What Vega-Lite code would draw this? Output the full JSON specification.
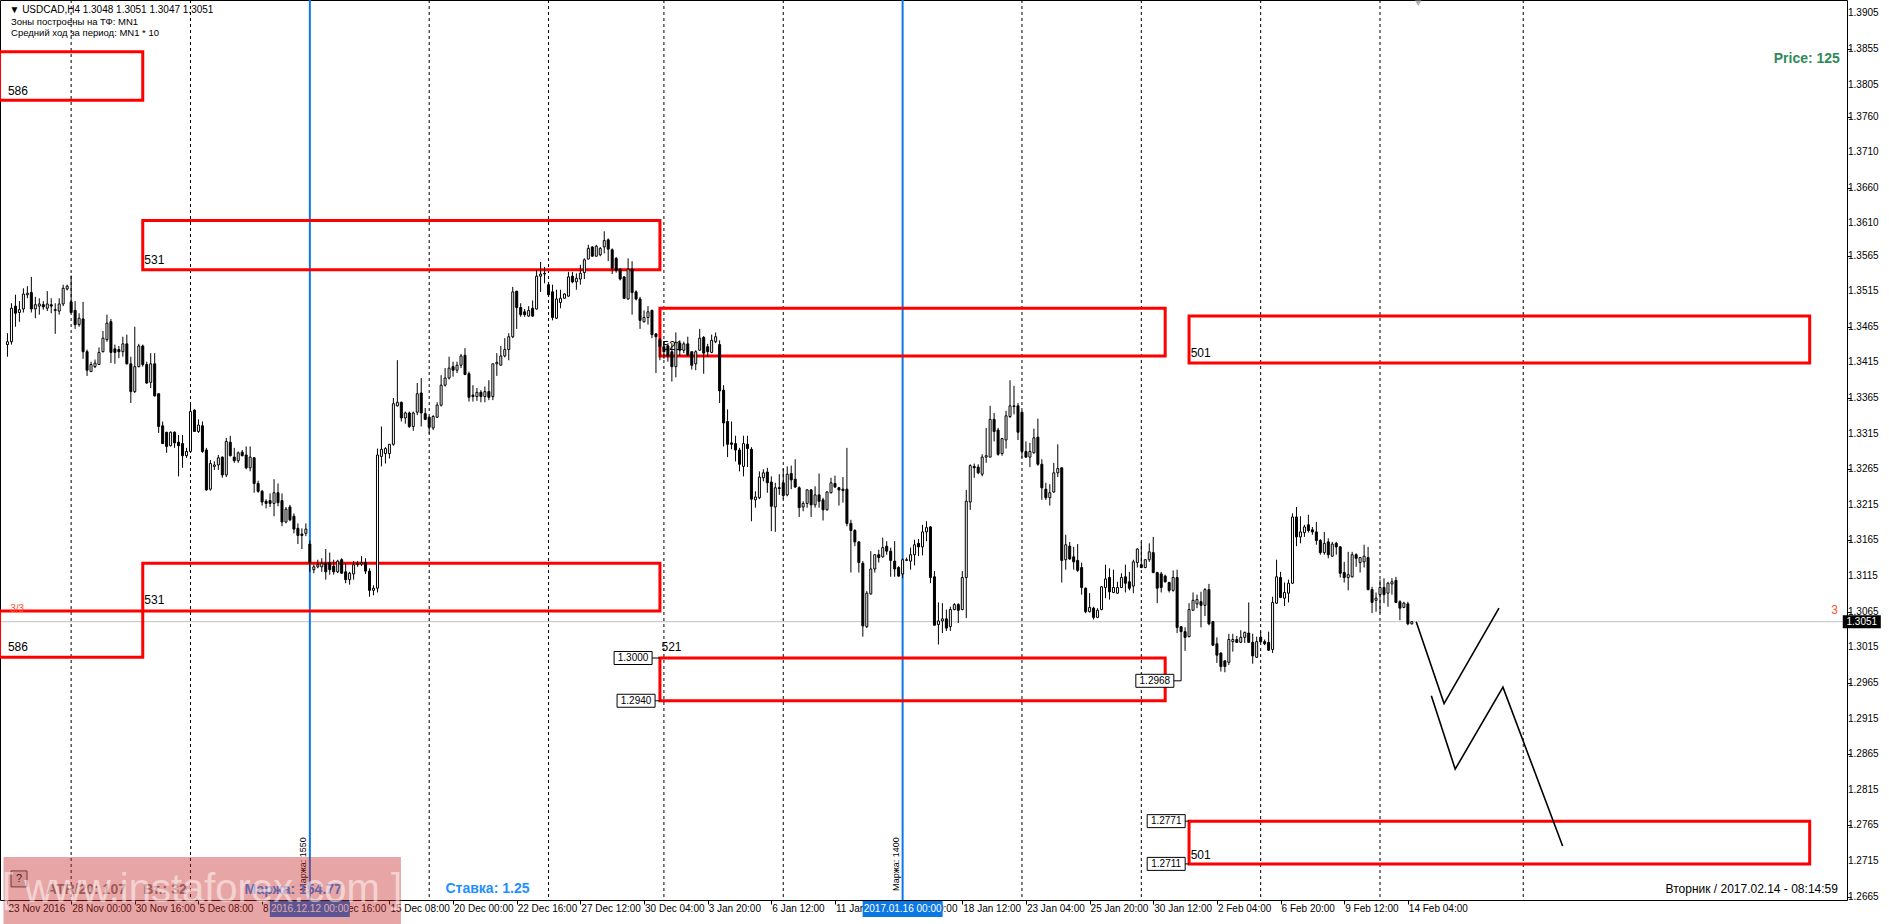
{
"$schema": "https://vega.github.io/schema/vega-lite/v6.json",
"width": 1847, "height": 900,
"autosize": {"type": "none"},
"padding": {"left": 0, "top": 0, "right": 42, "bottom": 24},
"background": "white",
"config": {"font": "Liberation Sans", "view": {"stroke": "black", "strokeWidth": 1}, "axis": {"labelOverlap": false}, "axisY": {"labelOverlap": false}, "axisRight": {"labelOverlap": false}},
"datasets": {
"bars": [
{"i":0,"o":1.3440,"h":1.3456,"l":1.3423,"c":1.3444},{"i":1,"o":1.3444,"h":1.3498,"l":1.3440,"c":1.3491},{"i":2,"o":1.3494,"h":1.3510,"l":1.3465,"c":1.3484},{"i":3,"o":1.3485,"h":1.3501,"l":1.3472,"c":1.3489},{"i":4,"o":1.3490,"h":1.3519,"l":1.3485,"c":1.3511},{"i":5,"o":1.3510,"h":1.3522,"l":1.3505,"c":1.3512},{"i":6,"o":1.3513,"h":1.3535,"l":1.3485,"c":1.3490},{"i":7,"o":1.3490,"h":1.3507,"l":1.3477,"c":1.3496},{"i":8,"o":1.3494,"h":1.3505,"l":1.3482,"c":1.3497},{"i":9,"o":1.3496,"h":1.3501,"l":1.3489,"c":1.3493},
{"i":10,"o":1.3491,"h":1.3515,"l":1.3487,"c":1.3497},{"i":11,"o":1.3496,"h":1.3505,"l":1.3484,"c":1.3494},{"i":12,"o":1.3489,"h":1.3498,"l":1.3455,"c":1.3488},{"i":13,"o":1.3487,"h":1.3505,"l":1.3482,"c":1.3497},{"i":14,"o":1.3497,"h":1.3524,"l":1.3494,"c":1.3519},{"i":15,"o":1.3518,"h":1.3524,"l":1.3516,"c":1.3522},{"i":16,"o":1.3500,"h":1.3537,"l":1.3484,"c":1.3485},{"i":17,"o":1.3488,"h":1.3501,"l":1.3462,"c":1.3468},{"i":18,"o":1.3468,"h":1.3484,"l":1.3465,"c":1.3477},{"i":19,"o":1.3476,"h":1.3500,"l":1.3420,"c":1.3430},
{"i":20,"o":1.3430,"h":1.3433,"l":1.3396,"c":1.3404},{"i":21,"o":1.3402,"h":1.3416,"l":1.3402,"c":1.3412},{"i":22,"o":1.3409,"h":1.3419,"l":1.3407,"c":1.3414},{"i":23,"o":1.3412,"h":1.3436,"l":1.3412,"c":1.3429},{"i":24,"o":1.3430,"h":1.3459,"l":1.3429,"c":1.3449},{"i":25,"o":1.3447,"h":1.3482,"l":1.3444,"c":1.3470},{"i":26,"o":1.3472,"h":1.3476,"l":1.3414,"c":1.3429},{"i":27,"o":1.3434,"h":1.3440,"l":1.3413,"c":1.3429},{"i":28,"o":1.3433,"h":1.3438,"l":1.3421,"c":1.3430},{"i":29,"o":1.3430,"h":1.3451,"l":1.3423,"c":1.3441},
{"i":30,"o":1.3441,"h":1.3454,"l":1.3412,"c":1.3413},{"i":31,"o":1.3413,"h":1.3423,"l":1.3358,"c":1.3374},{"i":32,"o":1.3374,"h":1.3465,"l":1.3372,"c":1.3409},{"i":33,"o":1.3409,"h":1.3441,"l":1.3408,"c":1.3438},{"i":34,"o":1.3438,"h":1.3440,"l":1.3409,"c":1.3412},{"i":35,"o":1.3412,"h":1.3416,"l":1.3385,"c":1.3386},{"i":36,"o":1.3387,"h":1.3428,"l":1.3379,"c":1.3413},{"i":37,"o":1.3413,"h":1.3428,"l":1.3367,"c":1.3368},{"i":38,"o":1.3371,"h":1.3371,"l":1.3316,"c":1.3325},{"i":39,"o":1.3326,"h":1.3332,"l":1.3301,"c":1.3301},
{"i":40,"o":1.3317,"h":1.3317,"l":1.3288,"c":1.3297},{"i":41,"o":1.3298,"h":1.3318,"l":1.3297,"c":1.3317},{"i":42,"o":1.3317,"h":1.3318,"l":1.3295,"c":1.3302},{"i":43,"o":1.3303,"h":1.3313,"l":1.3255,"c":1.3298},{"i":44,"o":1.3301,"h":1.3313,"l":1.3267,"c":1.3284},{"i":45,"o":1.3284,"h":1.3295,"l":1.3281,"c":1.3290},{"i":46,"o":1.3290,"h":1.3359,"l":1.3289,"c":1.3346},{"i":47,"o":1.3348,"h":1.3349,"l":1.3318,"c":1.3318},{"i":48,"o":1.3318,"h":1.3335,"l":1.3316,"c":1.3327},{"i":49,"o":1.3326,"h":1.3332,"l":1.3288,"c":1.3290},
{"i":50,"o":1.3292,"h":1.3295,"l":1.3235,"c":1.3236},{"i":51,"o":1.3237,"h":1.3278,"l":1.3235,"c":1.3273},{"i":52,"o":1.3269,"h":1.3276,"l":1.3264,"c":1.3271},{"i":53,"o":1.3271,"h":1.3285,"l":1.3264,"c":1.3281},{"i":54,"o":1.3282,"h":1.3283,"l":1.3253,"c":1.3257},{"i":55,"o":1.3257,"h":1.3309,"l":1.3254,"c":1.3304},{"i":56,"o":1.3303,"h":1.3312,"l":1.3283,"c":1.3284},{"i":57,"o":1.3282,"h":1.3295,"l":1.3274,"c":1.3277},{"i":58,"o":1.3277,"h":1.3290,"l":1.3274,"c":1.3288},{"i":59,"o":1.3289,"h":1.3292,"l":1.3283,"c":1.3284},
{"i":60,"o":1.3285,"h":1.3297,"l":1.3265,"c":1.3267},{"i":61,"o":1.3267,"h":1.3297,"l":1.3262,"c":1.3282},{"i":62,"o":1.3281,"h":1.3282,"l":1.3232,"c":1.3245},{"i":63,"o":1.3245,"h":1.3249,"l":1.3232,"c":1.3234},{"i":64,"o":1.3234,"h":1.3236,"l":1.3214,"c":1.3219},{"i":65,"o":1.3220,"h":1.3223,"l":1.3210,"c":1.3217},{"i":66,"o":1.3221,"h":1.3231,"l":1.3212,"c":1.3217},{"i":67,"o":1.3217,"h":1.3251,"l":1.3199,"c":1.3232},{"i":68,"o":1.3232,"h":1.3245,"l":1.3213,"c":1.3218},{"i":69,"o":1.3221,"h":1.3231,"l":1.3185,"c":1.3191},
{"i":70,"o":1.3191,"h":1.3212,"l":1.3189,"c":1.3209},{"i":71,"o":1.3212,"h":1.3215,"l":1.3192,"c":1.3194},{"i":72,"o":1.3199,"h":1.3203,"l":1.3175,"c":1.3181},{"i":73,"o":1.3182,"h":1.3189,"l":1.3160,"c":1.3172},{"i":74,"o":1.3174,"h":1.3182,"l":1.3153,"c":1.3172},{"i":75,"o":1.3175,"h":1.3189,"l":1.3171,"c":1.3181},{"i":76,"o":1.3160,"h":1.3165,"l":1.3121,"c":1.3134},{"i":77,"o":1.3124,"h":1.3131,"l":1.3119,"c":1.3128},{"i":78,"o":1.3128,"h":1.3138,"l":1.3126,"c":1.3131},{"i":79,"o":1.3128,"h":1.3140,"l":1.3121,"c":1.3133},
{"i":80,"o":1.3133,"h":1.3153,"l":1.3110,"c":1.3121},{"i":81,"o":1.3134,"h":1.3148,"l":1.3117,"c":1.3124},{"i":82,"o":1.3129,"h":1.3138,"l":1.3117,"c":1.3121},{"i":83,"o":1.3121,"h":1.3138,"l":1.3119,"c":1.3136},{"i":84,"o":1.3138,"h":1.3140,"l":1.3119,"c":1.3119},{"i":85,"o":1.3121,"h":1.3133,"l":1.3105,"c":1.3110},{"i":86,"o":1.3110,"h":1.3121,"l":1.3103,"c":1.3119},{"i":87,"o":1.3118,"h":1.3136,"l":1.3110,"c":1.3131},{"i":88,"o":1.3131,"h":1.3136,"l":1.3128,"c":1.3133},{"i":89,"o":1.3132,"h":1.3143,"l":1.3129,"c":1.3134},
{"i":90,"o":1.3134,"h":1.3140,"l":1.3118,"c":1.3122},{"i":91,"o":1.3122,"h":1.3126,"l":1.3086,"c":1.3095},{"i":92,"o":1.3095,"h":1.3102,"l":1.3088,"c":1.3098},{"i":93,"o":1.3098,"h":1.3294,"l":1.3092,"c":1.3285},{"i":94,"o":1.3283,"h":1.3325,"l":1.3269,"c":1.3293},{"i":95,"o":1.3287,"h":1.3296,"l":1.3273,"c":1.3294},{"i":96,"o":1.3287,"h":1.3300,"l":1.3280,"c":1.3300},{"i":97,"o":1.3300,"h":1.3365,"l":1.3298,"c":1.3357},{"i":98,"o":1.3354,"h":1.3418,"l":1.3353,"c":1.3359},{"i":99,"o":1.3359,"h":1.3360,"l":1.3332,"c":1.3337},
{"i":100,"o":1.3337,"h":1.3346,"l":1.3329,"c":1.3344},{"i":101,"o":1.3344,"h":1.3346,"l":1.3323,"c":1.3325},{"i":102,"o":1.3325,"h":1.3346,"l":1.3319,"c":1.3344},{"i":103,"o":1.3345,"h":1.3386,"l":1.3341,"c":1.3371},{"i":104,"o":1.3372,"h":1.3393,"l":1.3325,"c":1.3344},{"i":105,"o":1.3343,"h":1.3351,"l":1.3334,"c":1.3335},{"i":106,"o":1.3338,"h":1.3339,"l":1.3315,"c":1.3324},{"i":107,"o":1.3323,"h":1.3341,"l":1.3320,"c":1.3339},{"i":108,"o":1.3338,"h":1.3359,"l":1.3337,"c":1.3355},{"i":109,"o":1.3355,"h":1.3397,"l":1.3353,"c":1.3383},
{"i":110,"o":1.3383,"h":1.3407,"l":1.3381,"c":1.3393},{"i":111,"o":1.3393,"h":1.3423,"l":1.3391,"c":1.3407},{"i":112,"o":1.3409,"h":1.3416,"l":1.3395,"c":1.3404},{"i":113,"o":1.3404,"h":1.3416,"l":1.3400,"c":1.3411},{"i":114,"o":1.3411,"h":1.3427,"l":1.3407,"c":1.3424},{"i":115,"o":1.3425,"h":1.3435,"l":1.3397,"c":1.3398},{"i":116,"o":1.3399,"h":1.3402,"l":1.3360,"c":1.3366},{"i":117,"o":1.3369,"h":1.3383,"l":1.3360,"c":1.3367},{"i":118,"o":1.3367,"h":1.3379,"l":1.3361,"c":1.3373},{"i":119,"o":1.3373,"h":1.3376,"l":1.3359,"c":1.3367},
{"i":120,"o":1.3367,"h":1.3381,"l":1.3359,"c":1.3374},{"i":121,"o":1.3374,"h":1.3390,"l":1.3362,"c":1.3366},{"i":122,"o":1.3367,"h":1.3413,"l":1.3362,"c":1.3413},{"i":123,"o":1.3413,"h":1.3428,"l":1.3396,"c":1.3415},{"i":124,"o":1.3411,"h":1.3438,"l":1.3411,"c":1.3424},{"i":125,"o":1.3424,"h":1.3449,"l":1.3422,"c":1.3433},{"i":126,"o":1.3433,"h":1.3456,"l":1.3418,"c":1.3451},{"i":127,"o":1.3451,"h":1.3521,"l":1.3449,"c":1.3514},{"i":128,"o":1.3515,"h":1.3515,"l":1.3462,"c":1.3492},{"i":129,"o":1.3492,"h":1.3498,"l":1.3479,"c":1.3482},
{"i":130,"o":1.3486,"h":1.3490,"l":1.3479,"c":1.3482},{"i":131,"o":1.3480,"h":1.3494,"l":1.3479,"c":1.3488},{"i":132,"o":1.3491,"h":1.3502,"l":1.3479,"c":1.3480},{"i":133,"o":1.3490,"h":1.3545,"l":1.3489,"c":1.3536},{"i":134,"o":1.3536,"h":1.3556,"l":1.3514,"c":1.3539},{"i":135,"o":1.3539,"h":1.3549,"l":1.3526,"c":1.3540},{"i":136,"o":1.3524,"h":1.3528,"l":1.3507,"c":1.3510},{"i":137,"o":1.3514,"h":1.3524,"l":1.3474,"c":1.3478},{"i":138,"o":1.3477,"h":1.3517,"l":1.3476,"c":1.3504},{"i":139,"o":1.3499,"h":1.3517,"l":1.3491,"c":1.3505},
{"i":140,"o":1.3505,"h":1.3512,"l":1.3505,"c":1.3511},{"i":141,"o":1.3508,"h":1.3542,"l":1.3507,"c":1.3535},{"i":142,"o":1.3536,"h":1.3542,"l":1.3526,"c":1.3528},{"i":143,"o":1.3528,"h":1.3540,"l":1.3517,"c":1.3533},{"i":144,"o":1.3532,"h":1.3552,"l":1.3524,"c":1.3540},{"i":145,"o":1.3541,"h":1.3561,"l":1.3532,"c":1.3559},{"i":146,"o":1.3560,"h":1.3580,"l":1.3560,"c":1.3575},{"i":147,"o":1.3577,"h":1.3578,"l":1.3564,"c":1.3564},{"i":148,"o":1.3564,"h":1.3580,"l":1.3564,"c":1.3578},{"i":149,"o":1.3566,"h":1.3577,"l":1.3564,"c":1.3575},
{"i":150,"o":1.3577,"h":1.3599,"l":1.3568,"c":1.3586},{"i":151,"o":1.3587,"h":1.3589,"l":1.3557,"c":1.3574},{"i":152,"o":1.3573,"h":1.3575,"l":1.3539,"c":1.3547},{"i":153,"o":1.3561,"h":1.3563,"l":1.3541,"c":1.3544},{"i":154,"o":1.3546,"h":1.3547,"l":1.3530,"c":1.3532},{"i":155,"o":1.3535,"h":1.3536,"l":1.3504,"c":1.3505},{"i":156,"o":1.3504,"h":1.3561,"l":1.3503,"c":1.3546},{"i":157,"o":1.3546,"h":1.3557,"l":1.3482,"c":1.3513},{"i":158,"o":1.3514,"h":1.3516,"l":1.3502,"c":1.3504},{"i":159,"o":1.3504,"h":1.3507,"l":1.3462,"c":1.3474},
{"i":160,"o":1.3472,"h":1.3488,"l":1.3471,"c":1.3478},{"i":161,"o":1.3478,"h":1.3494,"l":1.3468,"c":1.3486},{"i":162,"o":1.3488,"h":1.3489,"l":1.3449,"c":1.3454},{"i":163,"o":1.3455,"h":1.3456,"l":1.3400,"c":1.3451},{"i":164,"o":1.3447,"h":1.3449,"l":1.3418,"c":1.3437},{"i":165,"o":1.3437,"h":1.3445,"l":1.3420,"c":1.3430},{"i":166,"o":1.3438,"h":1.3442,"l":1.3416,"c":1.3424},{"i":167,"o":1.3430,"h":1.3442,"l":1.3388,"c":1.3409},{"i":168,"o":1.3409,"h":1.3457,"l":1.3394,"c":1.3443},{"i":169,"o":1.3442,"h":1.3446,"l":1.3424,"c":1.3432},
{"i":170,"o":1.3432,"h":1.3444,"l":1.3428,"c":1.3441},{"i":171,"o":1.3441,"h":1.3451,"l":1.3424,"c":1.3425},{"i":172,"o":1.3430,"h":1.3430,"l":1.3405,"c":1.3411},{"i":173,"o":1.3413,"h":1.3432,"l":1.3404,"c":1.3430},{"i":174,"o":1.3432,"h":1.3462,"l":1.3432,"c":1.3449},{"i":175,"o":1.3450,"h":1.3452,"l":1.3399,"c":1.3428},{"i":176,"o":1.3437,"h":1.3441,"l":1.3423,"c":1.3430},{"i":177,"o":1.3429,"h":1.3454,"l":1.3428,"c":1.3446},{"i":178,"o":1.3444,"h":1.3457,"l":1.3442,"c":1.3451},{"i":179,"o":1.3440,"h":1.3446,"l":1.3358,"c":1.3375},
{"i":180,"o":1.3376,"h":1.3383,"l":1.3297,"c":1.3330},{"i":181,"o":1.3332,"h":1.3349,"l":1.3282,"c":1.3300},{"i":182,"o":1.3302,"h":1.3332,"l":1.3293,"c":1.3300},{"i":183,"o":1.3301,"h":1.3312,"l":1.3276,"c":1.3292},{"i":184,"o":1.3292,"h":1.3295,"l":1.3262,"c":1.3272},{"i":185,"o":1.3269,"h":1.3312,"l":1.3255,"c":1.3301},{"i":186,"o":1.3300,"h":1.3312,"l":1.3268,"c":1.3294},{"i":187,"o":1.3293,"h":1.3296,"l":1.3192,"c":1.3223},{"i":188,"o":1.3222,"h":1.3234,"l":1.3211,"c":1.3226},{"i":189,"o":1.3225,"h":1.3262,"l":1.3223,"c":1.3254},
{"i":190,"o":1.3253,"h":1.3265,"l":1.3248,"c":1.3260},{"i":191,"o":1.3261,"h":1.3267,"l":1.3232,"c":1.3246},{"i":192,"o":1.3247,"h":1.3255,"l":1.3178,"c":1.3213},{"i":193,"o":1.3212,"h":1.3246,"l":1.3177,"c":1.3239},{"i":194,"o":1.3239,"h":1.3258,"l":1.3229,"c":1.3238},{"i":195,"o":1.3246,"h":1.3266,"l":1.3223,"c":1.3228},{"i":196,"o":1.3229,"h":1.3269,"l":1.3227,"c":1.3258},{"i":197,"o":1.3259,"h":1.3270,"l":1.3237,"c":1.3250},{"i":198,"o":1.3251,"h":1.3279,"l":1.3239,"c":1.3240},{"i":199,"o":1.3239,"h":1.3241,"l":1.3198,"c":1.3211},
{"i":200,"o":1.3212,"h":1.3220,"l":1.3206,"c":1.3217},{"i":201,"o":1.3217,"h":1.3237,"l":1.3211,"c":1.3236},{"i":202,"o":1.3236,"h":1.3237,"l":1.3198,"c":1.3215},{"i":203,"o":1.3215,"h":1.3241,"l":1.3211,"c":1.3229},{"i":204,"o":1.3229,"h":1.3259,"l":1.3211,"c":1.3220},{"i":205,"o":1.3222,"h":1.3225,"l":1.3193,"c":1.3208},{"i":206,"o":1.3208,"h":1.3234,"l":1.3207,"c":1.3233},{"i":207,"o":1.3232,"h":1.3253,"l":1.3231,"c":1.3246},{"i":208,"o":1.3245,"h":1.3256,"l":1.3239,"c":1.3240},{"i":209,"o":1.3239,"h":1.3240,"l":1.3214,"c":1.3236},
{"i":210,"o":1.3237,"h":1.3254,"l":1.3218,"c":1.3235},{"i":211,"o":1.3237,"h":1.3295,"l":1.3185,"c":1.3189},{"i":212,"o":1.3189,"h":1.3194,"l":1.3120,"c":1.3179},{"i":213,"o":1.3179,"h":1.3181,"l":1.3157,"c":1.3163},{"i":214,"o":1.3163,"h":1.3164,"l":1.3120,"c":1.3134},{"i":215,"o":1.3133,"h":1.3136,"l":1.3030,"c":1.3045},{"i":216,"o":1.3044,"h":1.3094,"l":1.3042,"c":1.3091},{"i":217,"o":1.3090,"h":1.3150,"l":1.3089,"c":1.3125},{"i":218,"o":1.3125,"h":1.3145,"l":1.3120,"c":1.3145},{"i":219,"o":1.3145,"h":1.3152,"l":1.3134,"c":1.3141},
{"i":220,"o":1.3142,"h":1.3169,"l":1.3141,"c":1.3155},{"i":221,"o":1.3157,"h":1.3164,"l":1.3145,"c":1.3150},{"i":222,"o":1.3150,"h":1.3155,"l":1.3114,"c":1.3137},{"i":223,"o":1.3136,"h":1.3164,"l":1.3114,"c":1.3125},{"i":224,"o":1.3127,"h":1.3129,"l":1.3114,"c":1.3115},{"i":225,"o":1.3118,"h":1.3140,"l":1.3112,"c":1.3138},{"i":226,"o":1.3137,"h":1.3141,"l":1.3136,"c":1.3138},{"i":227,"o":1.3136,"h":1.3155,"l":1.3124,"c":1.3145},{"i":228,"o":1.3145,"h":1.3166,"l":1.3130,"c":1.3159},{"i":229,"o":1.3161,"h":1.3167,"l":1.3143,"c":1.3156},
{"i":230,"o":1.3156,"h":1.3187,"l":1.3144,"c":1.3177},{"i":231,"o":1.3177,"h":1.3192,"l":1.3164,"c":1.3183},{"i":232,"o":1.3184,"h":1.3185,"l":1.3105,"c":1.3113},{"i":233,"o":1.3114,"h":1.3122,"l":1.3046,"c":1.3046},{"i":234,"o":1.3047,"h":1.3078,"l":1.3019,"c":1.3052},{"i":235,"o":1.3052,"h":1.3077,"l":1.3035,"c":1.3055},{"i":236,"o":1.3055,"h":1.3068,"l":1.3038,"c":1.3042},{"i":237,"o":1.3044,"h":1.3072,"l":1.3038,"c":1.3068},{"i":238,"o":1.3068,"h":1.3077,"l":1.3067,"c":1.3075},{"i":239,"o":1.3075,"h":1.3077,"l":1.3049,"c":1.3067},
{"i":240,"o":1.3068,"h":1.3122,"l":1.3067,"c":1.3113},{"i":241,"o":1.3113,"h":1.3236,"l":1.3056,"c":1.3220},{"i":242,"o":1.3219,"h":1.3272,"l":1.3208,"c":1.3270},{"i":243,"o":1.3269,"h":1.3273,"l":1.3253,"c":1.3267},{"i":244,"o":1.3268,"h":1.3272,"l":1.3258,"c":1.3260},{"i":245,"o":1.3258,"h":1.3286,"l":1.3255,"c":1.3282},{"i":246,"o":1.3282,"h":1.3323,"l":1.3274,"c":1.3284},{"i":247,"o":1.3282,"h":1.3354,"l":1.3282,"c":1.3335},{"i":248,"o":1.3335,"h":1.3344,"l":1.3304,"c":1.3318},{"i":249,"o":1.3320,"h":1.3323,"l":1.3284,"c":1.3286},
{"i":250,"o":1.3287,"h":1.3309,"l":1.3284,"c":1.3308},{"i":251,"o":1.3306,"h":1.3347,"l":1.3294,"c":1.3340},{"i":252,"o":1.3339,"h":1.3390,"l":1.3337,"c":1.3354},{"i":253,"o":1.3354,"h":1.3382,"l":1.3342,"c":1.3353},{"i":254,"o":1.3354,"h":1.3358,"l":1.3306,"c":1.3317},{"i":255,"o":1.3345,"h":1.3347,"l":1.3281,"c":1.3290},{"i":256,"o":1.3290,"h":1.3304,"l":1.3281,"c":1.3282},{"i":257,"o":1.3282,"h":1.3302,"l":1.3268,"c":1.3290},{"i":258,"o":1.3288,"h":1.3322,"l":1.3287,"c":1.3309},{"i":259,"o":1.3310,"h":1.3336,"l":1.3270,"c":1.3272},
{"i":260,"o":1.3272,"h":1.3279,"l":1.3222,"c":1.3239},{"i":261,"o":1.3237,"h":1.3246,"l":1.3222,"c":1.3225},{"i":262,"o":1.3225,"h":1.3244,"l":1.3214,"c":1.3232},{"i":263,"o":1.3233,"h":1.3274,"l":1.3232,"c":1.3260},{"i":264,"o":1.3260,"h":1.3300,"l":1.3254,"c":1.3266},{"i":265,"o":1.3267,"h":1.3267,"l":1.3106,"c":1.3137},{"i":266,"o":1.3138,"h":1.3173,"l":1.3124,"c":1.3159},{"i":267,"o":1.3157,"h":1.3163,"l":1.3138,"c":1.3139},{"i":268,"o":1.3142,"h":1.3156,"l":1.3124,"c":1.3135},{"i":269,"o":1.3137,"h":1.3160,"l":1.3121,"c":1.3123},
{"i":270,"o":1.3127,"h":1.3134,"l":1.3089,"c":1.3099},{"i":271,"o":1.3098,"h":1.3099,"l":1.3063,"c":1.3065},{"i":272,"o":1.3065,"h":1.3091,"l":1.3064,"c":1.3071},{"i":273,"o":1.3070,"h":1.3072,"l":1.3054,"c":1.3057},{"i":274,"o":1.3057,"h":1.3070,"l":1.3056,"c":1.3067},{"i":275,"o":1.3068,"h":1.3101,"l":1.3067,"c":1.3100},{"i":276,"o":1.3099,"h":1.3131,"l":1.3084,"c":1.3111},{"i":277,"o":1.3113,"h":1.3126,"l":1.3082,"c":1.3093},{"i":278,"o":1.3092,"h":1.3124,"l":1.3091,"c":1.3099},{"i":279,"o":1.3091,"h":1.3107,"l":1.3090,"c":1.3099},
{"i":280,"o":1.3099,"h":1.3119,"l":1.3098,"c":1.3113},{"i":281,"o":1.3114,"h":1.3131,"l":1.3092,"c":1.3105},{"i":282,"o":1.3107,"h":1.3121,"l":1.3095,"c":1.3098},{"i":283,"o":1.3101,"h":1.3138,"l":1.3091,"c":1.3135},{"i":284,"o":1.3134,"h":1.3154,"l":1.3127,"c":1.3153},{"i":285,"o":1.3131,"h":1.3163,"l":1.3126,"c":1.3127},{"i":286,"o":1.3127,"h":1.3139,"l":1.3126,"c":1.3138},{"i":287,"o":1.3138,"h":1.3161,"l":1.3135,"c":1.3149},{"i":288,"o":1.3148,"h":1.3170,"l":1.3119,"c":1.3120},{"i":289,"o":1.3120,"h":1.3121,"l":1.3077,"c":1.3098},
{"i":290,"o":1.3118,"h":1.3121,"l":1.3092,"c":1.3099},{"i":291,"o":1.3115,"h":1.3117,"l":1.3106,"c":1.3107},{"i":292,"o":1.3106,"h":1.3107,"l":1.3092,"c":1.3095},{"i":293,"o":1.3095,"h":1.3123,"l":1.3093,"c":1.3113},{"i":294,"o":1.3113,"h":1.3124,"l":1.3035,"c":1.3043},{"i":295,"o":1.3044,"h":1.3044,"l":1.2968,"c":1.3037},{"i":296,"o":1.3037,"h":1.3043,"l":1.3010,"c":1.3029},{"i":297,"o":1.3030,"h":1.3077,"l":1.3029,"c":1.3068},{"i":298,"o":1.3067,"h":1.3092,"l":1.3067,"c":1.3081},{"i":299,"o":1.3076,"h":1.3089,"l":1.3070,"c":1.3082},
{"i":300,"o":1.3079,"h":1.3093,"l":1.3043,"c":1.3074},{"i":301,"o":1.3074,"h":1.3098,"l":1.3059,"c":1.3096},{"i":302,"o":1.3096,"h":1.3104,"l":1.3046,"c":1.3048},{"i":303,"o":1.3051,"h":1.3052,"l":1.3017,"c":1.3018},{"i":304,"o":1.3020,"h":1.3029,"l":1.2993,"c":1.3004},{"i":305,"o":1.3007,"h":1.3008,"l":1.2981,"c":1.2988},{"i":306,"o":1.2996,"h":1.2997,"l":1.2980,"c":1.2988},{"i":307,"o":1.2994,"h":1.3034,"l":1.2990,"c":1.3026},{"i":308,"o":1.3023,"h":1.3034,"l":1.3009,"c":1.3026},{"i":309,"o":1.3026,"h":1.3031,"l":1.3021,"c":1.3022},
{"i":310,"o":1.3022,"h":1.3039,"l":1.3021,"c":1.3029},{"i":311,"o":1.3029,"h":1.3037,"l":1.3021,"c":1.3036},{"i":312,"o":1.3035,"h":1.3078,"l":1.3022,"c":1.3022},{"i":313,"o":1.3022,"h":1.3034,"l":1.2992,"c":1.3003},{"i":314,"o":1.3001,"h":1.3030,"l":1.3000,"c":1.3023},{"i":315,"o":1.3029,"h":1.3037,"l":1.3021,"c":1.3023},{"i":316,"o":1.3023,"h":1.3026,"l":1.3018,"c":1.3020},{"i":317,"o":1.3022,"h":1.3037,"l":1.3010,"c":1.3011},{"i":318,"o":1.3012,"h":1.3086,"l":1.3007,"c":1.3078},{"i":319,"o":1.3077,"h":1.3138,"l":1.3076,"c":1.3114},
{"i":320,"o":1.3113,"h":1.3121,"l":1.3084,"c":1.3085},{"i":321,"o":1.3084,"h":1.3106,"l":1.3073,"c":1.3092},{"i":322,"o":1.3091,"h":1.3110,"l":1.3078,"c":1.3105},{"i":323,"o":1.3105,"h":1.3203,"l":1.3104,"c":1.3198},{"i":324,"o":1.3198,"h":1.3212,"l":1.3157,"c":1.3170},{"i":325,"o":1.3170,"h":1.3199,"l":1.3161,"c":1.3177},{"i":326,"o":1.3176,"h":1.3187,"l":1.3170,"c":1.3184},{"i":327,"o":1.3187,"h":1.3201,"l":1.3176,"c":1.3179},{"i":328,"o":1.3180,"h":1.3184,"l":1.3173,"c":1.3177},{"i":329,"o":1.3177,"h":1.3191,"l":1.3159,"c":1.3165},
{"i":330,"o":1.3165,"h":1.3167,"l":1.3145,"c":1.3148},{"i":331,"o":1.3148,"h":1.3177,"l":1.3145,"c":1.3161},{"i":332,"o":1.3163,"h":1.3168,"l":1.3140,"c":1.3145},{"i":333,"o":1.3143,"h":1.3163,"l":1.3142,"c":1.3160},{"i":334,"o":1.3161,"h":1.3163,"l":1.3145,"c":1.3156},{"i":335,"o":1.3156,"h":1.3157,"l":1.3113,"c":1.3119},{"i":336,"o":1.3120,"h":1.3135,"l":1.3106,"c":1.3113},{"i":337,"o":1.3113,"h":1.3149,"l":1.3095,"c":1.3117},{"i":338,"o":1.3114,"h":1.3149,"l":1.3113,"c":1.3145},{"i":339,"o":1.3145,"h":1.3147,"l":1.3128,"c":1.3140},
{"i":340,"o":1.3134,"h":1.3142,"l":1.3120,"c":1.3141},{"i":341,"o":1.3135,"h":1.3159,"l":1.3127,"c":1.3143},{"i":342,"o":1.3141,"h":1.3156,"l":1.3095,"c":1.3096},{"i":343,"o":1.3096,"h":1.3100,"l":1.3063,"c":1.3078},{"i":344,"o":1.3081,"h":1.3092,"l":1.3065,"c":1.3084},{"i":345,"o":1.3089,"h":1.3110,"l":1.3063,"c":1.3099},{"i":346,"o":1.3099,"h":1.3112,"l":1.3077,"c":1.3089},{"i":347,"o":1.3091,"h":1.3107,"l":1.3072,"c":1.3105},{"i":348,"o":1.3104,"h":1.3112,"l":1.3089,"c":1.3107},{"i":349,"o":1.3109,"h":1.3114,"l":1.3077,"c":1.3078},
{"i":350,"o":1.3079,"h":1.3081,"l":1.3053,"c":1.3070},{"i":351,"o":1.3071,"h":1.3079,"l":1.3070,"c":1.3077},{"i":352,"o":1.3076,"h":1.3079,"l":1.3046,"c":1.3048},{"i":353,"o":1.3048,"h":1.3051,"l":1.3047,"c":1.3051}
],
"grid": [{"i":16},{"i":46},{"i":106},{"i":136},{"i":165},{"i":195},{"i":255},{"i":285},{"i":315},{"i":345},{"i":381}],
"vlines": [{"i":76,"m":"Маржа: 1550","d":"2016.12.12 00:00"},{"i":225,"m":"Маржа: 1400","d":"2017.01.16 00:00"}],
"zones": [
{"x1":-2,"x2":34,"top":1.3851,"bot":1.3783},
{"x1":34,"x2":164,"top":1.3614,"bot":1.3545},
{"x1":164,"x2":291,"top":1.3491,"bot":1.3424},
{"x1":297,"x2":453,"top":1.3480,"bot":1.3414},
{"x1":34,"x2":164,"top":1.3133,"bot":1.3066},
{"x1":-2,"x2":34,"top":1.3066,"bot":1.3001},
{"x1":164,"x2":291,"top":1.3000,"bot":1.2940},
{"x1":297,"x2":453,"top":1.2771,"bot":1.2711}
],
"zlabels": [
{"i":0.1,"p":1.3790,"t":"586"},{"i":34.4,"p":1.3553,"t":"531"},{"i":164.6,"p":1.3432,"t":"521"},{"i":297.4,"p":1.3423,"t":"501"},
{"i":34.4,"p":1.3076,"t":"531"},{"i":0.1,"p":1.3010,"t":"586"},{"i":164.4,"p":1.3010,"t":"521"},{"i":297.4,"p":1.2718,"t":"501"}
],
"plabels": [
{"i":157.25,"p":1.3000,"ti":164,"t":"1.3000"},{"i":158.0,"p":1.2940,"ti":164,"t":"1.2940"},{"i":288.4,"p":1.2968,"ti":295,"t":"1.2968"},
{"i":291.25,"p":1.2771,"ti":297,"t":"1.2771"},{"i":291.25,"p":1.2711,"ti":297,"t":"1.2711"}
],
"proj": [
{"g":"A","k":1,"i":354.1,"p":1.3051},{"g":"A","k":2,"i":361.1,"p":1.2936},{"g":"A","k":3,"i":374.9,"p":1.3070},
{"g":"B","k":1,"i":357.9,"p":1.2947},{"g":"B","k":2,"i":363.9,"p":1.2844},{"g":"B","k":3,"i":375.9,"p":1.2959},{"g":"B","k":4,"i":390.9,"p":1.2736}
],
"xlabels": [
{"i":0,"t":"23 Nov 2016"},{"i":16,"t":"28 Nov 00:00"},{"i":32,"t":"30 Nov 16:00"},{"i":48,"t":"5 Dec 08:00"},{"i":64,"t":"8 Dec 00:00"},{"i":80,"t":"12 Dec 16:00"},{"i":96,"t":"15 Dec 08:00"},{"i":112,"t":"20 Dec 00:00"},{"i":128,"t":"22 Dec 16:00"},{"i":144,"t":"27 Dec 12:00"},{"i":160,"t":"30 Dec 04:00"},{"i":176,"t":"3 Jan 20:00"},{"i":192,"t":"6 Jan 12:00"},{"i":208,"t":"11 Jan 04:00"},{"i":224,"t":"13 Jan 20:00"},{"i":240,"t":"18 Jan 12:00"},{"i":256,"t":"23 Jan 04:00"},{"i":272,"t":"25 Jan 20:00"},{"i":288,"t":"30 Jan 12:00"},{"i":304,"t":"2 Feb 04:00"},{"i":320,"t":"6 Feb 20:00"},{"i":336,"t":"9 Feb 12:00"},{"i":352,"t":"14 Feb 04:00"}
],
"yticks": [{"p":1.3905},{"p":1.3855},{"p":1.3805},{"p":1.3760},{"p":1.3710},{"p":1.3660},{"p":1.3610},{"p":1.3565},{"p":1.3515},{"p":1.3465},{"p":1.3415},{"p":1.3365},{"p":1.3315},{"p":1.3265},{"p":1.3215},{"p":1.3165},{"p":1.3115},{"p":1.3065},{"p":1.3015},{"p":1.2965},{"p":1.2915},{"p":1.2865},{"p":1.2815},{"p":1.2765},{"p":1.2715},{"p":1.2665}],
"one": [{"k":1}]
},
"layer": [
{"data":{"name":"grid"},"mark":{"type":"rule","color":"black","strokeWidth":1,"strokeDash":[3,3]},
 "encoding":{"x":{"field":"i","type":"quantitative","scale":{"domain":[-0.625,461.125],"nice":false,"zero":false},
   "axis":{"values":[0,16,32,48,64,80,96,112,128,144,160,176,192,208,224,240,256,272,288,304,320,336,352],"labels":false,"tickSize":4,"tickColor":"black","domain":false,"grid":false,"title":null}}}},
{"data":{"name":"one"},"mark":{"type":"rule","color":"#c0c0c0","strokeWidth":1},
 "encoding":{"y":{"datum":1.3051,"type":"quantitative","scale":{"domain":[1.26603,1.39237],"nice":false,"zero":false},
   "axis":{"orient":"right","values":[1.3905,1.3855,1.3805,1.3760,1.3710,1.3660,1.3610,1.3565,1.3515,1.3465,1.3415,1.3365,1.3315,1.3265,1.3215,1.3165,1.3115,1.3065,1.3015,1.2965,1.2915,1.2865,1.2815,1.2765,1.2715,1.2665],
   "labels":false,"tickColor":"black","tickSize":4,"domain":false,"grid":false,"title":null}}}},
{"data":{"name":"yticks"},"mark":{"type":"text","align":"left","baseline":"middle","fontSize":10,"dx":6,"color":"black"},
 "encoding":{"x":{"datum":461.125,"type":"quantitative"},"y":{"field":"p","type":"quantitative"},"text":{"field":"p","type":"quantitative","format":".4f"}}},
{"data":{"name":"vlines"},"mark":{"type":"rule","color":"#0b78e3","strokeWidth":2},"encoding":{"x":{"field":"i","type":"quantitative"}}},
{"data":{"name":"zones"},"mark":{"type":"rect","fill":null,"fillOpacity":0,"stroke":"#ff0000","strokeWidth":3},
 "encoding":{"x":{"field":"x1","type":"quantitative"},"x2":{"field":"x2"},"y":{"field":"top","type":"quantitative"},"y2":{"field":"bot"}}},
{"data":{"name":"bars"},"mark":{"type":"rule","color":"black","strokeWidth":1},
 "encoding":{"x":{"field":"i","type":"quantitative"},"y":{"field":"l","type":"quantitative"},"y2":{"field":"h"}}},
{"data":{"name":"bars"},"mark":{"type":"bar","orient":"vertical","size":2,"stroke":"black","strokeWidth":1},
 "encoding":{"x":{"field":"i","type":"quantitative"},"y":{"field":"o","type":"quantitative"},"y2":{"field":"c"},
  "fill":{"condition":{"test":"datum.c >= datum.o","value":"white"},"value":"black"}}},
{"data":{"name":"proj"},"mark":{"type":"line","color":"black","strokeWidth":1.6},
 "encoding":{"x":{"field":"i","type":"quantitative"},"y":{"field":"p","type":"quantitative"},"detail":{"field":"g"},"order":{"field":"k"}}},
{"data":{"name":"zlabels"},"mark":{"type":"text","align":"left","baseline":"alphabetic","fontSize":12,"color":"black"},
 "encoding":{"x":{"field":"i","type":"quantitative"},"y":{"field":"p","type":"quantitative"},"text":{"field":"t"}}},
{"data":{"name":"plabels"},"mark":{"type":"rule","color":"black","strokeWidth":1},
 "encoding":{"x":{"field":"i","type":"quantitative"},"x2":{"field":"ti"},"y":{"field":"p","type":"quantitative"}}},
{"data":{"name":"plabels"},"mark":{"type":"point","shape":"M-1,-0.342L1,-0.342L1,0.342L-1,0.342Z","size":1444,"filled":true,"fill":"white","stroke":"black","strokeWidth":1,"opacity":1},
 "encoding":{"x":{"field":"i","type":"quantitative"},"y":{"field":"p","type":"quantitative"}}},
{"data":{"name":"plabels"},"mark":{"type":"text","align":"center","baseline":"middle","fontSize":10,"color":"black"},
 "encoding":{"x":{"field":"i","type":"quantitative"},"y":{"field":"p","type":"quantitative"},"text":{"field":"t"}}},
{"data":{"name":"xlabels"},"mark":{"type":"text","align":"left","baseline":"middle","fontSize":10,"dx":1,"color":"black"},
 "encoding":{"x":{"field":"i","type":"quantitative"},"y":{"datum":1.26478,"type":"quantitative"},"text":{"field":"t"}}},
{"data":{"name":"vlines"},"mark":{"type":"point","shape":"M-1,-0.2L1,-0.2L1,0.2L-1,0.2Z","size":6400,"filled":true,"fill":"#0b78e3","opacity":1},
 "encoding":{"x":{"field":"i","type":"quantitative"},"y":{"datum":1.26478,"type":"quantitative"}}},
{"data":{"name":"vlines"},"mark":{"type":"text","align":"center","baseline":"middle","fontSize":10,"color":"white"},
 "encoding":{"x":{"field":"i","type":"quantitative"},"y":{"datum":1.26478,"type":"quantitative"},"text":{"field":"d"}}},
{"data":{"name":"vlines"},"mark":{"type":"text","align":"left","baseline":"bottom","angle":270,"dy":-2,"fontSize":9,"color":"black"},
 "encoding":{"x":{"field":"i","type":"quantitative"},"y":{"datum":1.26731,"type":"quantitative"},"text":{"field":"m"}}},
{"data":{"name":"one"},"mark":{"type":"point","shape":"triangle-down","size":40,"filled":true,"fill":"#b0b0b0","opacity":1},
 "encoding":{"x":{"datum":354.6,"type":"quantitative"},"y":{"datum":1.3919,"type":"quantitative"}}},
{"data":{"name":"one"},"mark":{"type":"point","shape":"M-1,-0.342L1,-0.342L1,0.342L-1,0.342Z","size":1444,"filled":true,"fill":"black","opacity":1},
 "encoding":{"x":{"datum":466.1,"type":"quantitative"},"y":{"datum":1.3051,"type":"quantitative"}}},
{"data":{"name":"one"},"mark":{"type":"text","align":"center","baseline":"middle","fontSize":10,"color":"white"},
 "encoding":{"x":{"datum":466.1,"type":"quantitative"},"y":{"datum":1.3051,"type":"quantitative"},"text":{"value":"1.3051"}}},
{"data":{"name":"one"},"mark":{"type":"text","align":"right","baseline":"middle","fontSize":12,"color":"#ff4f2f"},
 "encoding":{"x":{"datum":460.1,"type":"quantitative"},"y":{"datum":1.30674,"type":"quantitative"},"text":{"value":"3"}}},
{"data":{"name":"one"},"mark":{"type":"text","align":"left","baseline":"middle","fontSize":10,"color":"#ff4f2f"},
 "encoding":{"x":{"datum":0.7,"type":"quantitative"},"y":{"datum":1.30688,"type":"quantitative"},"text":{"value":"3/3"}}},
{"data":{"name":"one"},"mark":{"type":"text","align":"left","baseline":"middle","fontSize":10,"color":"black"},
 "encoding":{"x":{"datum":0.5,"type":"quantitative"},"y":{"datum":1.39096,"type":"quantitative"},"text":{"value":"▼ USDCAD,H4  1.3048 1.3051 1.3047 1.3051"}}},
{"data":{"name":"one"},"mark":{"type":"text","align":"left","baseline":"middle","fontSize":9.5,"color":"black"},
 "encoding":{"x":{"datum":0.9,"type":"quantitative"},"y":{"datum":1.38928,"type":"quantitative"},"text":{"value":"Зоны построены на ТФ: MN1"}}},
{"data":{"name":"one"},"mark":{"type":"text","align":"left","baseline":"middle","fontSize":9.5,"color":"black"},
 "encoding":{"x":{"datum":0.9,"type":"quantitative"},"y":{"datum":1.38773,"type":"quantitative"},"text":{"value":"Средний ход за период: MN1 * 10"}}},
{"data":{"name":"one"},"mark":{"type":"text","align":"right","baseline":"middle","fontSize":14,"fontWeight":"bold","color":"#2e8b57"},
 "encoding":{"x":{"datum":460.6,"type":"quantitative"},"y":{"datum":1.38409,"type":"quantitative"},"text":{"value":"Price: 125"}}},
{"data":{"name":"one"},"mark":{"type":"text","align":"left","baseline":"middle","fontSize":14,"fontWeight":"bold","color":"#1e90ff"},
 "encoding":{"x":{"datum":110.1,"type":"quantitative"},"y":{"datum":1.26759,"type":"quantitative"},"text":{"value":"Ставка: 1.25"}}},
{"data":{"name":"one"},"mark":{"type":"text","align":"right","baseline":"middle","fontSize":12,"color":"black"},
 "encoding":{"x":{"datum":460.1,"type":"quantitative"},"y":{"datum":1.26759,"type":"quantitative"},"text":{"value":"Вторник / 2017.02.14 - 08:14:59"}}},
{"data":{"name":"one"},"mark":{"type":"text","align":"left","baseline":"middle","fontSize":14,"fontWeight":"bold","color":"#808080"},
 "encoding":{"x":{"datum":9.9,"type":"quantitative"},"y":{"datum":1.26745,"type":"quantitative"},"text":{"value":"ATR/20: 107"}}},
{"data":{"name":"one"},"mark":{"type":"text","align":"left","baseline":"middle","fontSize":14,"fontWeight":"bold","color":"#808080"},
 "encoding":{"x":{"datum":34.1,"type":"quantitative"},"y":{"datum":1.26745,"type":"quantitative"},"text":{"value":"Вт.: 32"}}},
{"data":{"name":"one"},"mark":{"type":"text","align":"left","baseline":"middle","fontSize":14,"fontWeight":"bold","color":"#1e90ff"},
 "encoding":{"x":{"datum":59.6,"type":"quantitative"},"y":{"datum":1.26745,"type":"quantitative"},"text":{"value":"Маржа: 154.77"}}},
{"data":{"name":"one"},"mark":{"type":"point","shape":"square","size":256,"filled":true,"fill":"#e0e0e0","stroke":"#404040","strokeWidth":1,"opacity":1},
 "encoding":{"x":{"datum":2.9,"type":"quantitative"},"y":{"datum":1.26899,"type":"quantitative"}}},
{"data":{"name":"one"},"mark":{"type":"text","align":"center","baseline":"middle","fontSize":11,"color":"black"},
 "encoding":{"x":{"datum":2.9,"type":"quantitative"},"y":{"datum":1.26899,"type":"quantitative"},"text":{"value":"?"}}},
{"data":{"name":"one"},"mark":{"type":"rect","fill":"#c82828","opacity":0.42},
 "encoding":{"x":{"datum":-1,"type":"quantitative"},"x2":{"datum":98.9},"y":{"datum":1.27207,"type":"quantitative"},"y2":{"datum":1.26267}}},
{"data":{"name":"one"},"mark":{"type":"text","align":"center","baseline":"middle","fontSize":40,"color":"white","opacity":0.5},
 "encoding":{"x":{"datum":48.9,"type":"quantitative"},"y":{"datum":1.26745,"type":"quantitative"},"text":{"value":"[ www.instaforex.com ]"}}}
]
}
